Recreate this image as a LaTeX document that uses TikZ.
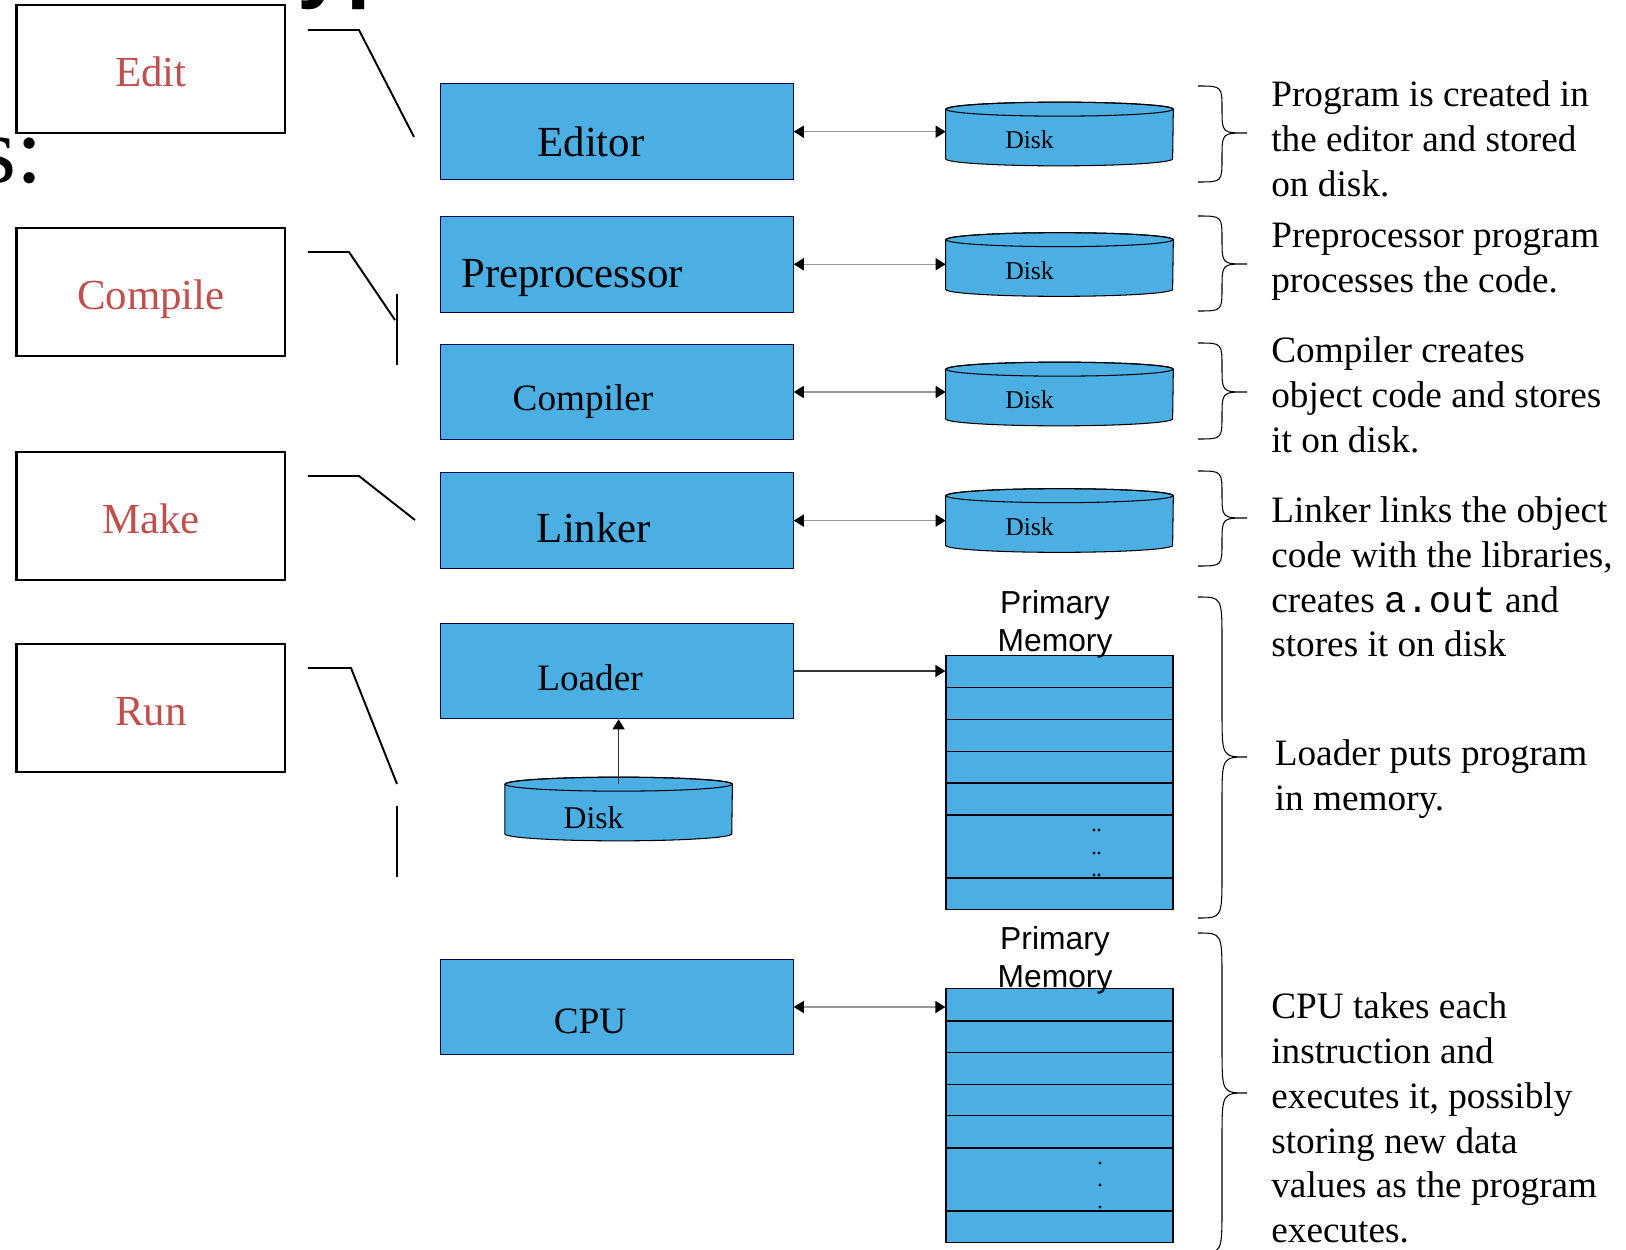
\documentclass[tikz,border=0pt]{standalone}
\usepackage{fontspec}
\setmainfont{Liberation Serif}
\setmonofont{Liberation Mono}
\newfontfamily\arialfont{Liberation Sans}
\usetikzlibrary{arrows.meta, calc}
\definecolor{boxblue}{RGB}{75,175,228}
\definecolor{phasered}{RGB}{192,80,77}

\tikzset{
  phasebox/.style={draw=black, line width=1.4pt, minimum width=5.37cm, minimum height=2.55cm, inner sep=0, text height=20pt, text depth=0pt, text=phasered, font=\fontsize{24.4}{29}\selectfont},
  unit/.style={draw=black!70!blue, line width=0.6pt, fill=boxblue, minimum width=7.05cm, minimum height=1.91cm, inner sep=0},
  unittxt/.style={inner sep=0},
  disk/.style={minimum width=4.54cm, minimum height=1.26cm, inner sep=0},
  disktxt/.style={inner sep=0, font=\fontsize{14.6}{17}\selectfont},
  mem/.style={draw=black, line width=0.7pt, fill=boxblue, minimum width=4.54cm, minimum height=5.08cm, inner sep=0},
  memlbl/.style={align=center, inner sep=0, font=\arialfont\fontsize{18.1}{21.7}\selectfont},
  note/.style={align=left, anchor=west, inner sep=0, font=\fontsize{21.2}{25.5}\selectfont},
  link/.style={draw=black!40, line width=0.9pt, {Triangle[length=5.7pt,width=6.8pt,color=black]}-{Triangle[length=5.7pt,width=6.8pt,color=black]}},
  feed/.style={draw=black!80, line width=0.7pt, -{Triangle[length=5.7pt,width=6.8pt,color=black]}},
  callout/.style={line width=1.1pt},
  brc/.style={line width=0.6pt},
}

\begin{document}
\begin{tikzpicture}[x=0.02cm, y=-0.02cm]
  \useasboundingbox (0,0) rectangle (1626,1250);
  \clip (0,0) rectangle (1626,1250);
  % cut-off title fragments
  \node[anchor=base west, inner sep=0, font=\arialfont\bfseries\fontsize{50}{60}\selectfont] (ttl) at (297,-8) {yp};
  \node[anchor=base west, inner sep=0, font=\fontsize{54}{60}\selectfont] (sub) at (-21,182.5) {s:};
  % phases
  \node[phasebox] (edit) at (150.9,69) {Edit};
  \node[phasebox] (compile) at (150.9,292) {Compile};
  \node[phasebox] (make) at (150.9,516) {Make};
  \node[phasebox] (run) at (150.9,708) {Run};
  \draw[callout] (308,30) -- (359,30) -- (414,137);
  \draw[callout] (308,252) -- (349,252) -- (395,320);
  \draw[callout] (397,294) -- (397,365);
  \draw[callout] (308,476) -- (359,476) -- (415,520);
  \draw[callout] (308,668) -- (351,668) -- (397,784);
  \draw[callout] (397,806) -- (397,877);
  % units
  \node[unit] (editor) at (617,131.7) {};
  \node[unit] (prep) at (617,264.3) {};
  \node[unit] (compiler) at (617,392) {};
  \node[unit] (linker) at (617,520.6) {};
  \node[unit] (loader) at (617,671) {};
  \node[unit] (cpu) at (617,1007) {};
  \node[unittxt, font=\fontsize{24.4}{29}\selectfont] (editor-t) at (591,142) {Editor};
  \node[unittxt, font=\fontsize{24.4}{29}\selectfont] (prep-t) at (572,278) {Preprocessor};
  \node[unittxt, font=\fontsize{21.2}{25}\selectfont] (compiler-t) at (583,402) {Compiler};
  \node[unittxt, font=\fontsize{24.4}{29}\selectfont] (linker-t) at (594,528) {Linker};
  \node[unittxt, font=\fontsize{21.2}{25}\selectfont] (loader-t) at (590,678) {Loader};
  \node[unittxt, font=\fontsize{21.2}{25}\selectfont] (cpu-t) at (590,1021) {CPU};
  % disks
  \node[disk] (d1) at (1059.5,134) {};
  \node[disk] (d2) at (1059.5,264.5) {};
  \node[disk] (d3) at (1059.5,394) {};
  \node[disk] (d4) at (1059.5,520.5) {};
  \node[disk] (d5) at (618.6,809) {};
  \foreach \d in {d1,d2,d3,d4,d5} {
    \draw[line width=0.6pt, fill=boxblue] ([yshift=-0.14cm]\d.north west) -- ([yshift=0.14cm]\d.south west)
      arc[start angle=180, end angle=360, x radius=2.27cm, y radius=0.14cm] -- ([yshift=-0.14cm]\d.north east)
      arc[start angle=0, end angle=180, x radius=2.27cm, y radius=0.14cm] -- cycle;
    \draw[line width=0.6pt] ([yshift=-0.14cm]\d.north) ellipse[x radius=2.27cm, y radius=0.14cm];
  }
  \node[disktxt] (d1-t) at ([shift={(-30,6)}]d1.center) {Disk};
  \node[disktxt] (d2-t) at ([shift={(-30,6)}]d2.center) {Disk};
  \node[disktxt] (d3-t) at ([shift={(-30,6)}]d3.center) {Disk};
  \node[disktxt] (d4-t) at ([shift={(-30,6)}]d4.center) {Disk};
  \node[disktxt, font=\fontsize{18}{21}\selectfont] (d5-t) at ([shift={(-25,9)}]d5.center) {Disk};
  % primary memory
  \node[mem] (mem1) at (1059.5,782.4) {};
  \node[mem] (mem2) at (1059.5,1115.5) {};
  \foreach \y in {687.5,719.7,751.8,783,815,878}
    \draw[line width=0.7pt] (946,\y) -- (1173,\y);
  \foreach \y in {1021,1052.6,1084.7,1115.8,1148,1211}
    \draw[line width=0.7pt] (946,\y) -- (1173,\y);
  \foreach \y in {830,853,875} {
    \fill (1094,\y) circle[radius=0.9pt];
    \fill (1099,\y) circle[radius=0.9pt];
  }
  \foreach \y in {1163,1185,1207}
    \fill (1100,\y) circle[radius=0.9pt];
  \node[memlbl] (mem1-l) at (1055,624) {Primary\\Memory};
  \node[memlbl] (mem2-l) at (1055,960) {Primary\\Memory};
  % arrows
  \draw[link] (editor.east) -- (editor.east -| d1.west);
  \draw[link] (prep.east) -- (prep.east -| d2.west);
  \draw[link] (compiler.east) -- (compiler.east -| d3.west);
  \draw[link] (linker.east) -- (linker.east -| d4.west);
  \draw[feed] (loader.east) -- (loader.east -| mem1.west);
  \draw[feed] ([yshift=-0.14cm]d5.north) -- (d5.north |- loader.south);
  \draw[link] (cpu.east) -- (cpu.east -| mem2.west);
  % braces
  \foreach \t/\m/\b/\r in {86/133/182/24, 216/264/311/24, 343/392/439/24, 471/518/566/24, 597/757/918/45, 933/1093/1253/45}
    \draw[brc] (1198,\t) .. controls (1222,\t) .. (1222,\t+\r) -- (1222,\m-\r) .. controls (1222,\m) .. (1247,\m)
      .. controls (1222,\m) .. (1222,\m+\r) -- (1222,\b-\r) .. controls (1222,\b) .. (1198,\b);
  % notes
  \node[note] (n1) at (1271,139) {Program is created in\\the editor and stored\\on disk.};
  \node[note] (n2) at (1271,262) {Preprocessor program\\processes the code.};
  \node[note] (n3) at (1271,395) {Compiler creates\\object code and stores\\it on disk.};
  \node[note] (n4) at (1271,577) {Linker links the object\\code with the libraries,\\creates \texttt{a.out} and\\stores it on disk};
  \node[note] (n5) at (1274.5,779) {Loader puts program\\in memory.};
  \node[note] (n6) at (1271,1118) {CPU takes each\\instruction and\\executes it, possibly\\storing new data\\values as the program\\executes.};
\end{tikzpicture}
\end{document}
